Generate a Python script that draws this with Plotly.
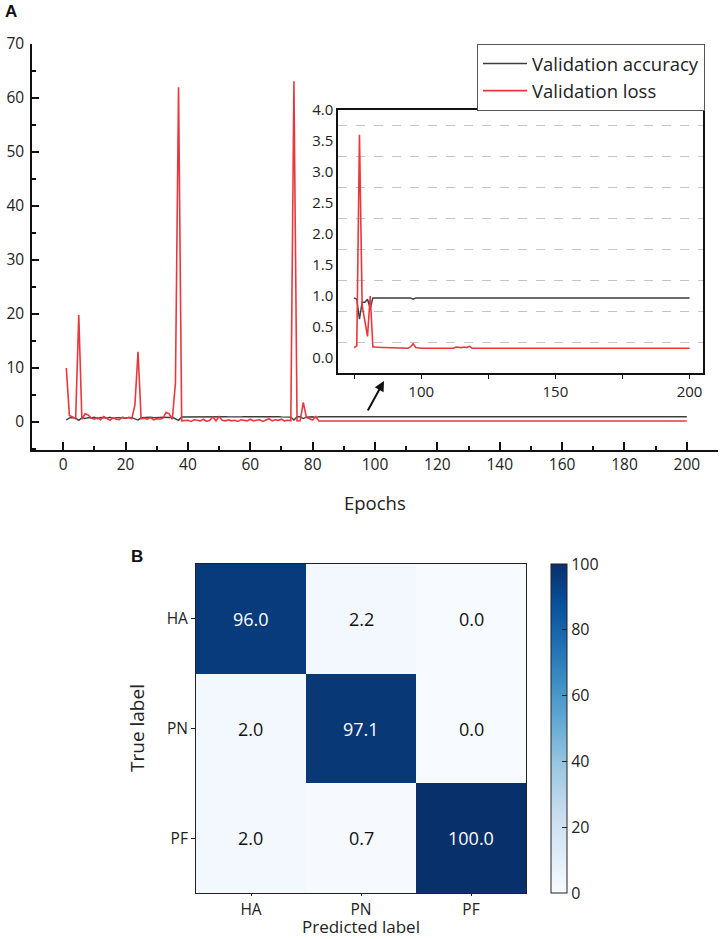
import plotly.graph_objects as go

# ---------------- data ----------------
epochs = list(range(1, 201))

val_loss = [
    10.0, 1.2, 0.9, 0.6, 19.8, 0.5, 1.5, 1.3, 0.7, 0.5,
    0.8, 0.4, 1.0, 0.6, 0.3, 0.8, 0.5, 0.4, 0.9, 0.7,
    0.8, 0.6, 3.1, 13.0, 0.6, 0.7, 0.5, 0.8, 0.4, 0.6,
    0.5, 0.7, 1.8, 1.5, 0.5, 7.2, 62.0, 0.2, 0.2, 0.3,
    0.1, 0.4, 0.3, 0.2, 0.5, 0.1, 0.3, 0.9, 0.2, 1.0,
    0.3, 0.2, 0.4, 0.2, 0.3, 0.1, 0.4, 0.3, 0.2, 0.5,
    0.2, 0.3, 0.4, 0.1, 0.3, 0.6, 0.2, 0.4, 0.3, 0.5,
    0.2, 0.3, 0.2, 63.1, 0.17, 0.20, 3.6, 0.85, 0.6, 0.35,
    1.0, 0.18, 0.18, 0.17, 0.17, 0.17, 0.17, 0.17, 0.17, 0.17,
    0.17, 0.17, 0.17, 0.16, 0.16, 0.18, 0.23, 0.17, 0.16, 0.16,
    0.16, 0.16, 0.16, 0.16, 0.16, 0.16, 0.16, 0.16, 0.16, 0.16,
    0.16, 0.16, 0.18, 0.17, 0.17, 0.18, 0.17, 0.19, 0.16, 0.16,
    0.16, 0.16, 0.16, 0.16, 0.16, 0.16, 0.16, 0.16, 0.16, 0.16,
    0.16, 0.16, 0.16, 0.16, 0.16, 0.16, 0.16, 0.16, 0.16, 0.16,
    0.16, 0.16, 0.16, 0.16, 0.16, 0.16, 0.16, 0.16, 0.16, 0.16,
    0.16, 0.16, 0.16, 0.16, 0.16, 0.16, 0.16, 0.16, 0.16, 0.16,
    0.16, 0.16, 0.16, 0.16, 0.16, 0.16, 0.16, 0.16, 0.16, 0.16,
    0.16, 0.16, 0.16, 0.16, 0.16, 0.16, 0.16, 0.16, 0.16, 0.16,
    0.16, 0.16, 0.16, 0.16, 0.16, 0.16, 0.16, 0.16, 0.16, 0.16,
    0.16, 0.16, 0.16, 0.16, 0.16, 0.16, 0.16, 0.16, 0.16, 0.16,
]

val_acc = [
    0.35, 0.75, 0.82, 0.70, 0.30, 0.78, 0.65, 0.80, 0.72, 0.85,
    0.60, 0.82, 0.78, 0.70, 0.85, 0.62, 0.80, 0.83, 0.75, 0.68,
    0.84, 0.80, 0.55, 0.35, 0.80, 0.85, 0.78, 0.86, 0.80, 0.88,
    0.84, 0.87, 0.80, 0.82, 0.86, 0.60, 0.30, 0.92, 0.93, 0.95,
    0.94, 0.96, 0.93, 0.95, 0.97, 0.94, 0.96, 0.92, 0.95, 0.93,
    0.96, 0.95, 0.94, 0.97, 0.95, 0.96, 0.93, 0.95, 0.96, 0.94,
    0.97, 0.95, 0.94, 0.96, 0.95, 0.93, 0.96, 0.95, 0.97, 0.94,
    0.95, 0.96, 0.90, 0.35, 0.97, 0.95, 0.63, 0.90, 0.90, 0.95,
    0.80, 0.97, 0.97, 0.97, 0.97, 0.97, 0.97, 0.97, 0.97, 0.97,
    0.97, 0.97, 0.97, 0.97, 0.97, 0.97, 0.95, 0.97, 0.97, 0.97,
    0.97, 0.97, 0.97, 0.97, 0.97, 0.97, 0.97, 0.97, 0.97, 0.97,
    0.97, 0.97, 0.97, 0.97, 0.97, 0.97, 0.97, 0.96, 0.97, 0.97,
    0.97, 0.97, 0.97, 0.97, 0.97, 0.97, 0.97, 0.97, 0.97, 0.97,
    0.97, 0.97, 0.97, 0.97, 0.97, 0.97, 0.97, 0.97, 0.97, 0.97,
    0.97, 0.97, 0.97, 0.97, 0.97, 0.97, 0.97, 0.97, 0.97, 0.97,
    0.97, 0.97, 0.97, 0.97, 0.97, 0.97, 0.97, 0.97, 0.97, 0.97,
    0.97, 0.97, 0.97, 0.97, 0.97, 0.97, 0.97, 0.97, 0.97, 0.97,
    0.97, 0.97, 0.97, 0.97, 0.97, 0.97, 0.97, 0.97, 0.97, 0.97,
    0.97, 0.97, 0.97, 0.97, 0.97, 0.97, 0.97, 0.97, 0.97, 0.97,
    0.97, 0.97, 0.97, 0.97, 0.97, 0.97, 0.97, 0.97, 0.97, 0.97,
]

inset_start_epoch = 75

class_labels = ["HA", "PN", "PF"]
confusion = [
    [96.0, 2.2, 0.0],
    [2.0, 97.1, 0.0],
    [2.0, 0.7, 100.0],
]

# ---------------- figure ----------------
W, H = 725, 939
FONT = "Open Sans"
RED = "#e8383d"
GRAY = "#3c3c3c"
TXT = "#222"

def px(x):
    return x / W

def py(y):
    return 1 - y / H

fig = go.Figure()

# main curves
fig.add_trace(go.Scatter(x=epochs, y=val_acc, mode="lines", name="Validation accuracy",
                         line=dict(color=GRAY, width=1.4), xaxis="x", yaxis="y"))
fig.add_trace(go.Scatter(x=epochs, y=val_loss, mode="lines", name="Validation loss",
                         line=dict(color=RED, width=1.6), xaxis="x", yaxis="y"))

# inset curves
i0 = epochs.index(inset_start_epoch)
fig.add_trace(go.Scatter(x=epochs[i0:], y=val_acc[i0:], mode="lines", showlegend=False,
                         line=dict(color=GRAY, width=1.4), xaxis="x2", yaxis="y2"))
fig.add_trace(go.Scatter(x=epochs[i0:], y=val_loss[i0:], mode="lines", showlegend=False,
                         line=dict(color=RED, width=1.6), xaxis="x2", yaxis="y2"))

# heatmap
blues = [[0.0, "#f7fbff"], [0.125, "#deebf7"], [0.25, "#c6dbef"], [0.375, "#9ecae1"],
         [0.5, "#6baed6"], [0.625, "#4292c6"], [0.75, "#2171b5"], [0.875, "#08519c"],
         [1.0, "#08306b"]]
fig.add_trace(go.Heatmap(
    z=confusion, x=class_labels, y=class_labels, colorscale=blues, zmin=0, zmax=100,
    xaxis="x3", yaxis="y3", showscale=True, hoverinfo="skip",
    colorbar=dict(thickness=16, x=px(551), xanchor="left", y=py(893), yanchor="bottom",
                  len=(893 - 564) / H, lenmode="fraction", outlinecolor="#222",
                  outlinewidth=1, tickvals=[0, 20, 40, 60, 80, 100], ticks="inside",
                  ticklen=5, tickcolor="#222", xpad=0, ypad=0,
                  tickfont=dict(family=FONT, size=16, color=TXT)),
))

annotations = []
# cell values
for r, row in enumerate(confusion):
    for c, v in enumerate(row):
        annotations.append(dict(x=class_labels[c], y=class_labels[r], xref="x3", yref="y3",
                                text=f"{v:.1f}", showarrow=False,
                                font=dict(family=FONT, size=18,
                                          color="white" if v > 50 else "#111")))

# arrow pointing toward inset
annotations.append(dict(x=px(384), y=py(381), xref="paper", yref="paper", text="",
                        showarrow=True, ax=-17, ay=31, arrowhead=2, arrowsize=1,
                        arrowwidth=2, arrowcolor="#111"))
# panel letters
annotations.append(dict(x=px(3), y=py(12), xref="paper", yref="paper", text="<b>A</b>",
                        showarrow=False, xanchor="left", yanchor="middle",
                        font=dict(family="Liberation Sans", size=17, color="#111")))
annotations.append(dict(x=px(129), y=py(556), xref="paper", yref="paper", text="<b>B</b>",
                        showarrow=False, xanchor="left", yanchor="middle",
                        font=dict(family="Liberation Sans", size=17, color="#111")))
# axis titles
annotations.append(dict(x=px(375), y=py(502), xref="paper", yref="paper", text="Epochs",
                        showarrow=False, xanchor="center", yanchor="middle",
                        font=dict(family=FONT, size=18.5, color=TXT)))
annotations.append(dict(x=px(361), y=0, xref="paper", yref="paper",
                        text="Predicted label", showarrow=False, xanchor="center",
                        yanchor="bottom", borderpad=0, yshift=0,
                        font=dict(family=FONT, size=17, color=TXT)))
annotations.append(dict(x=px(137), y=py(728), xref="paper", yref="paper",
                        text="True label", showarrow=False, xanchor="center",
                        yanchor="middle", textangle=-90,
                        font=dict(family=FONT, size=19, color=TXT)))

axis_font = dict(family=FONT, size=15.5, color=TXT)

fig.update_layout(
    width=W, height=H,
    margin=dict(l=0, r=0, t=0, b=0, autoexpand=False),
    paper_bgcolor="white", plot_bgcolor="white",
    font=dict(family=FONT, color=TXT),
    annotations=annotations,
    legend=dict(x=px(477), y=py(44), xanchor="left", yanchor="top",
                bordercolor="#555", borderwidth=1, bgcolor="white",
                font=dict(family=FONT, size=18.5, color=TXT),
                itemwidth=44, tracegroupgap=0),
    xaxis=dict(domain=[px(32), px(718)], range=[-10, 210], tick0=0, dtick=20,
               showline=True, linecolor="#111", linewidth=1.5, showgrid=False,
               zeroline=False, ticks="inside", ticklen=8, tickwidth=1.5, tickcolor="#111",
               tickfont=axis_font, automargin=False, ticklabelstandoff=0,
               minor=dict(dtick=10, ticks="inside", ticklen=4, tickwidth=1.5, tickcolor="#111"),
               anchor="y"),
    yaxis=dict(domain=[py(450), py(44)], range=[-5.2, 70], tick0=0, dtick=10,
               showline=True, linecolor="#111", linewidth=1.5, showgrid=False,
               zeroline=False, ticks="inside", ticklen=7, tickwidth=1.5, tickcolor="#111",
               tickfont=axis_font, automargin=False, ticklabelstandoff=3,
               minor=dict(dtick=5, ticks="inside", ticklen=4, tickwidth=1.5, tickcolor="#111"),
               anchor="x"),
    xaxis2=dict(domain=[px(338), px(703)], range=[69, 205], tick0=0, dtick=50,
                showline=True, mirror=True, linecolor="#111", linewidth=1.5,
                showgrid=False, zeroline=False, ticks="outside", ticklen=4, tickwidth=1,
                tickcolor="#111", tickfont=dict(family=FONT, size=15, color=TXT),
                automargin=False,
                minor=dict(dtick=25, tick0=0, ticks="outside", ticklen=4, tickwidth=1,
                           tickcolor="#111"),
                anchor="y2"),
    yaxis2=dict(domain=[py(373), py(110)], range=[-0.24, 4.0], tick0=0, dtick=0.5,
                tickformat=".1f", showline=True, mirror=True, linecolor="#111",
                linewidth=1.5, showgrid=False, zeroline=False, ticks="",
                tickfont=dict(family=FONT, size=15, color=TXT), automargin=False,
                minor=dict(tick0=0.25, dtick=0.5, showgrid=True, griddash="dash",
                           gridcolor="#c4c4c4", gridwidth=1, ticks=""),
                anchor="x2"),
    xaxis3=dict(domain=[px(196), px(526)], showline=True, mirror=True, linecolor="#222",
                linewidth=1, ticks="outside", ticklen=2, tickcolor="#222",
                tickfont=dict(family=FONT, size=15.5, color=TXT), automargin=False,
                anchor="y3", showgrid=False, zeroline=False),
    yaxis3=dict(domain=[py(893), py(564)], autorange="reversed", showline=True, mirror=True,
                linecolor="#222", linewidth=1, ticks="outside", ticklen=4, tickcolor="#222",
                tickfont=dict(family=FONT, size=15.5, color=TXT), automargin=False,
                anchor="x3", showgrid=False, zeroline=False),
)

fig.write_html("out.html",
               config={"displayModeBar": False},
               post_script="document.body.style.margin='0';document.body.style.overflow='hidden';")
